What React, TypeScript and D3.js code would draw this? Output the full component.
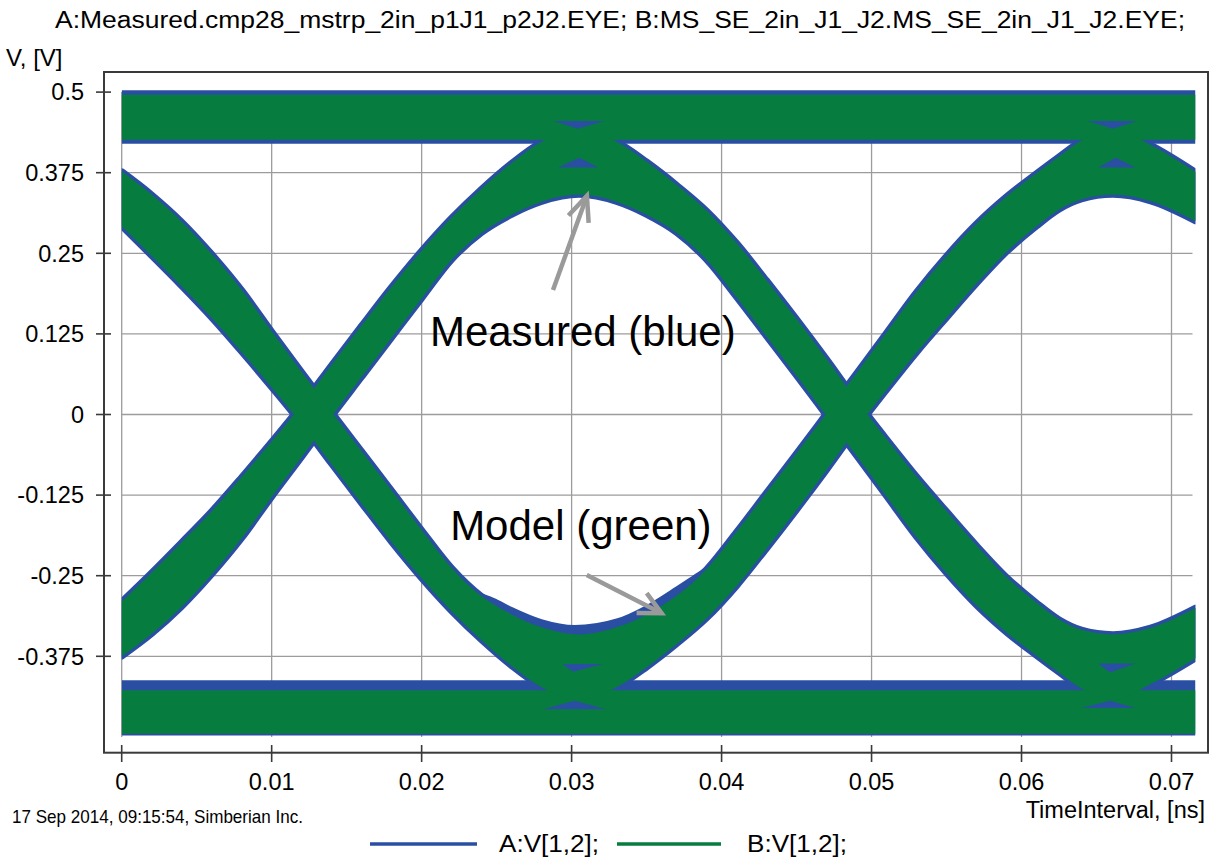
import React from "react";
import * as d3 from "d3";

// ---------- texts ----------
const chartTitle = "A:Measured.cmp28_mstrp_2in_p1J1_p2J2.EYE; B:MS_SE_2in_J1_J2.MS_SE_2in_J1_J2.EYE;";
const yAxisTitle = "V, [V]";
const xAxisTitle = "TimeInterval, [ns]";
const footerText = "17 Sep 2014, 09:15:54, Simberian Inc.";
const seriesNames = ["A:V[1,2];", "B:V[1,2];"];
const annotationLabels = ["Measured (blue)", "Model (green)"];

// ---------- axes ----------
const xTickValues = [0, 0.01, 0.02, 0.03, 0.04, 0.05, 0.06, 0.07];
const xTickLabels = ["0", "0.01", "0.02", "0.03", "0.04", "0.05", "0.06", "0.07"];
const yTickValues = [0.5, 0.375, 0.25, 0.125, 0, -0.125, -0.25, -0.375];
const yTickLabels = ["0.5", "0.375", "0.25", "0.125", "0", "-0.125", "-0.25", "-0.375"];
const timeSpan = [0, 0.0716];
const voltSpan = [-0.5, 0.5];

// ---------- B: model eye envelopes [t, vLow, vHigh] ----------
const modelHighLevel = [[0, 0.426, 0.496], [0.0716, 0.426, 0.496]];
const modelLowLevel = [[0, -0.495, -0.4275], [0.0716, -0.495, -0.4275]];

const modelRise1 = [
  [0, -0.375, -0.29], [0.002, -0.34, -0.245], [0.004, -0.298, -0.198], [0.006, -0.248, -0.15],
  [0.008, -0.192, -0.097], [0.01, -0.128, -0.042], [0.012, -0.066, 0.015], [0.014, -0.003, 0.077],
  [0.016, 0.058, 0.138], [0.018, 0.119, 0.198], [0.02, 0.18, 0.254], [0.022, 0.24, 0.305],
  [0.024, 0.282, 0.35], [0.026, 0.31, 0.39], [0.028, 0.33, 0.423], [0.0305, 0.341, 0.443],
];
const modelFall2 = [
  [0.0305, 0.341, 0.443], [0.033, 0.33, 0.423], [0.035, 0.31, 0.392], [0.037, 0.282, 0.356],
  [0.039, 0.24, 0.316], [0.041, 0.182, 0.266], [0.043, 0.121, 0.208], [0.045, 0.06, 0.148],
  [0.047, -0.002, 0.086], [0.049, -0.064, 0.022], [0.051, -0.127, -0.038], [0.053, -0.19, -0.096],
  [0.055, -0.246, -0.15], [0.057, -0.296, -0.203], [0.059, -0.338, -0.252], [0.061, -0.374, -0.292],
  [0.0625, -0.4, -0.318], [0.064, -0.425, -0.334], [0.0661, -0.443, -0.341],
];
const modelRise3 = [[0.0661, -0.443, -0.341], [0.0686, -0.418, -0.331], [0.0716, -0.378, -0.3]];

const modelFall1 = [
  [0, 0.292, 0.377], [0.002, 0.246, 0.341], [0.004, 0.199, 0.299], [0.006, 0.15, 0.249],
  [0.008, 0.097, 0.193], [0.01, 0.042, 0.129], [0.012, -0.015, 0.066], [0.014, -0.077, 0.004],
  [0.016, -0.138, -0.057], [0.018, -0.198, -0.118], [0.02, -0.254, -0.179], [0.022, -0.305, -0.238],
  [0.024, -0.35, -0.282], [0.026, -0.39, -0.31], [0.028, -0.423, -0.33], [0.0305, -0.443, -0.341],
];
const modelRise2 = [
  [0.0305, -0.443, -0.341], [0.033, -0.423, -0.33], [0.035, -0.392, -0.31], [0.037, -0.356, -0.281],
  [0.039, -0.316, -0.24], [0.041, -0.266, -0.182], [0.043, -0.208, -0.121], [0.045, -0.148, -0.06],
  [0.047, -0.086, 0.002], [0.049, -0.022, 0.064], [0.051, 0.038, 0.127], [0.053, 0.096, 0.19],
  [0.055, 0.15, 0.246], [0.057, 0.203, 0.296], [0.059, 0.252, 0.338], [0.061, 0.292, 0.374],
  [0.0625, 0.318, 0.4], [0.064, 0.334, 0.425], [0.0661, 0.341, 0.443],
];
const modelFall3 = [[0.0661, 0.341, 0.443], [0.0686, 0.331, 0.418], [0.0716, 0.3, 0.376]];

// ---------- A: measured envelopes [t, vLow, vHigh] ----------
const measuredHighLevel = [[0, 0.42, 0.503], [0.0716, 0.42, 0.503]];
const measuredLowLevel = [[0, -0.498, -0.412], [0.0716, -0.498, -0.412]];
const measuredDip = [
  [0.0236, -0.29, -0.276], [0.0248, -0.305, -0.286], [0.026, -0.325, -0.3], [0.028, -0.345, -0.319],
  [0.0302, -0.355, -0.328], [0.033, -0.345, -0.318], [0.035, -0.325, -0.297], [0.037, -0.296, -0.268],
  [0.0385, -0.27, -0.245], [0.0393, -0.255, -0.233],
];
// regions covered by measured traces but not by the model [t, v]
const modelGaps = [
  [[0.0288, 0.455], [0.0322, 0.455], [0.0304, 0.443]],
  [[0.0291, 0.383], [0.0318, 0.383], [0.0305, 0.398]],
  [[0.0281, -0.457], [0.0323, -0.457], [0.0302, -0.444]],
  [[0.0294, -0.387], [0.0321, -0.387], [0.0301, -0.399]],
  [[0.0644, 0.455], [0.0677, 0.455], [0.0661, 0.443]],
  [[0.0651, 0.383], [0.0676, 0.383], [0.0663, 0.398]],
  [[0.064, -0.455], [0.0676, -0.455], [0.0659, -0.444]],
  [[0.0651, -0.386], [0.0676, -0.386], [0.0659, -0.4]],
];

// ---------- styles ----------
const BLUE = "#2a4fa2";
const GREEN = "#067c3f";
const GRID = "#9c9c9c";
const FRAME = "#3a3a3a";
const ARROW = "#9a9a9a";
const FONT = "'Liberation Sans', Arial, sans-serif";

export default function App() {
  const x = d3.scaleLinear().domain([0, 0.07]).range([121.7, 1171.5]);
  const y = d3.scaleLinear().domain(voltSpan).range([736.9, 92.1]);

  const area = d3
    .area<number[]>()
    .x((d) => x(d[0]))
    .y0((d) => y(d[1]))
    .y1((d) => y(d[2]))
    .curve(d3.curveMonotoneX);
  const poly = d3
    .line<number[]>()
    .x((d) => x(d[0]))
    .y((d) => y(d[1]))
    .curve(d3.curveLinearClosed);

  const trackA = [...modelRise1, ...modelFall2.slice(1), ...modelRise3.slice(1)];
  const trackB = [...modelFall1, ...modelRise2.slice(1), ...modelFall3.slice(1)];

  const frame = { left: 104, top: 72, right: 1208, bottom: 752.7 };
  const plotL = x(timeSpan[0]);
  const plotR = x(timeSpan[1]);

  const arrow = (from: number[], to: number[], len: number, ang: number) => {
    const x1 = x(from[0]), y1 = y(from[1]), x2 = x(to[0]), y2 = y(to[1]);
    const back = Math.atan2(y1 - y2, x1 - x2);
    const w1 = [x2 + len * Math.cos(back + ang), y2 + len * Math.sin(back + ang)];
    const w2 = [x2 + len * Math.cos(back - ang), y2 + len * Math.sin(back - ang)];
    return (
      <g stroke={ARROW} strokeWidth={4.5} fill="none">
        <line x1={x1} y1={y1} x2={x2} y2={y2} />
        <polyline points={`${w1[0]},${w1[1]} ${x2},${y2} ${w2[0]},${w2[1]}`} strokeLinejoin="miter" />
      </g>
    );
  };

  return (
    <div style={{ position: "absolute", left: 0, top: 0 }}>
      <svg width={1222} height={860} style={{ display: "block", background: "#fff" }} fontFamily={FONT}>
        <defs>
          <clipPath id="plotClip">
            <rect x={plotL} y={80} width={plotR - plotL} height={665} />
          </clipPath>
        </defs>

        {/* grid */}
        <g stroke={GRID} strokeWidth={1.3}>
          {xTickValues.map((t) => (
            <line key={"gx" + t} x1={x(t)} x2={x(t)} y1={y(0.5)} y2={y(-0.5)} />
          ))}
          {yTickValues.map((v) => (
            <line key={"gy" + v} x1={x(0)} x2={x(0.0714)} y1={y(v)} y2={y(v)} />
          ))}
        </g>

        <g clipPath="url(#plotClip)">
          {/* A: measured */}
          <path d={area(measuredHighLevel) || ""} fill={BLUE} />
          <path d={area(measuredLowLevel) || ""} fill={BLUE} />
          <path d={area(trackA) || ""} fill={BLUE} stroke={BLUE} strokeWidth={6.5} strokeLinejoin="round" />
          <path d={area(trackB) || ""} fill={BLUE} stroke={BLUE} strokeWidth={6.5} strokeLinejoin="round" />
          <path d={area(measuredDip) || ""} fill={BLUE} stroke={BLUE} strokeWidth={2} strokeLinejoin="round" />

          {/* B: model */}
          <path d={area(modelHighLevel) || ""} fill={GREEN} />
          <path d={area(modelLowLevel) || ""} fill={GREEN} />
          <path d={area(trackA) || ""} fill={GREEN} />
          <path d={area(trackB) || ""} fill={GREEN} />

          {/* measured-only regions */}
          {modelGaps.map((g, i) => (
            <path key={"gap" + i} d={poly(g) || ""} fill={BLUE} />
          ))}
        </g>

        {/* frame */}
        <rect
          x={frame.left}
          y={frame.top}
          width={frame.right - frame.left}
          height={frame.bottom - frame.top}
          fill="none"
          stroke={FRAME}
          strokeWidth={2}
        />

        {/* y ticks */}
        <g>
          {yTickValues.map((v, i) => (
            <g key={"yt" + v}>
              <line x1={96} x2={111} y1={y(v)} y2={y(v)} stroke={FRAME} strokeWidth={1.6} />
              <text x={84} y={y(v) + 8.3} fontSize={23.5} textAnchor="end" fill="#000">
                {yTickLabels[i]}
              </text>
            </g>
          ))}
        </g>

        {/* x ticks */}
        <g>
          {xTickValues.map((t, i) => (
            <g key={"xt" + t}>
              <line x1={x(t)} x2={x(t)} y1={745} y2={762} stroke={FRAME} strokeWidth={1.6} />
              <text x={x(t)} y={789.5} fontSize={23.5} textAnchor="middle" fill="#000">
                {xTickLabels[i]}
              </text>
            </g>
          ))}
        </g>

        {/* titles */}
        <text x={55} y={28} fontSize={23} fill="#000" textLength={1130} lengthAdjust="spacingAndGlyphs">
          {chartTitle}
        </text>
        <text x={6} y={66} fontSize={24} fill="#000">
          {yAxisTitle}
        </text>
        <text x={1205} y={818} fontSize={23.5} textAnchor="end" fill="#000">
          {xAxisTitle}
        </text>
        <text x={12} y={822.5} fontSize={19} fill="#000" textLength={291} lengthAdjust="spacingAndGlyphs">
          {footerText}
        </text>

        {/* legend */}
        <line x1={370} x2={477} y1={844} y2={844} stroke={BLUE} strokeWidth={3.5} />
        <text x={499} y={852} fontSize={23.5} fill="#000" textLength={100} lengthAdjust="spacingAndGlyphs">
          {seriesNames[0]}
        </text>
        <line x1={617} x2={721} y1={844} y2={844} stroke={GREEN} strokeWidth={3.5} />
        <text x={747} y={852} fontSize={23.5} fill="#000" textLength={100} lengthAdjust="spacingAndGlyphs">
          {seriesNames[1]}
        </text>

        {/* annotations */}
        {arrow([0.02876, 0.193], [0.03102, 0.339], 27, 0.41)}
        {arrow([0.03101, -0.2489], [0.036, -0.3083], 25, 0.46)}
        <text x={x(0.02055)} y={y(0.106)} fontSize={42} fill="#000">
          {annotationLabels[0]}
        </text>
        <text x={x(0.0219)} y={y(-0.195)} fontSize={42} fill="#000">
          {annotationLabels[1]}
        </text>
      </svg>
    </div>
  );
}
